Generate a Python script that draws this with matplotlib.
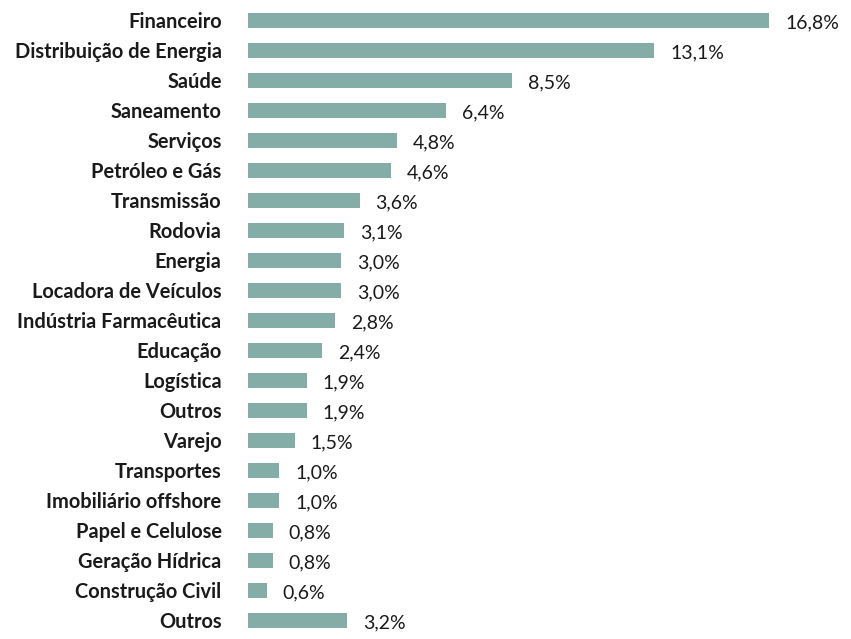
import matplotlib
matplotlib.use("Agg")
import matplotlib.pyplot as plt

categories = ["Financeiro", "Distribuição de Energia", "Saúde", "Saneamento", "Serviços",
              "Petróleo e Gás", "Transmissão", "Rodovia", "Energia", "Locadora de Veículos",
              "Indústria Farmacêutica", "Educação", "Logística", "Outros", "Varejo",
              "Transportes", "Imobiliário offshore", "Papel e Celulose", "Geração Hídrica",
              "Construção Civil", "Outros"]
values = [16.8, 13.1, 8.5, 6.4, 4.8, 4.6, 3.6, 3.1, 3.0, 3.0, 2.8, 2.4, 1.9, 1.9, 1.5,
          1.0, 1.0, 0.8, 0.8, 0.6, 3.2]

W, H = 851, 639
fig = plt.figure(figsize=(W / 100, H / 100), dpi=100)
ax = fig.add_axes([248 / W, 1 - 635 / H, 521 / W, 630 / H])

pos = list(range(len(categories)))
ax.barh(pos, values, height=0.5, color="#84ada7")
ax.set_xlim(0, 16.8)
ax.set_ylim(len(categories) - 0.5, -0.5)
ax.set_yticks(pos)
ax.set_yticklabels(categories, fontfamily="Lato", fontweight="bold", fontsize=14.4, color="#1a1a1a")
ax.tick_params(axis="y", length=0, pad=19)
ax.set_xticks([])
for s in ax.spines.values():
    s.set_visible(False)

for p, v in zip(pos, values):
    ax.annotate(f"{v:.1f}".replace(".", ",") + "%", xy=(v, p), xytext=(11.5, -2),
                textcoords="offset points", ha="left", va="center",
                fontfamily="Lato", fontsize=14, color="#1a1a1a", annotation_clip=False)

fig.savefig("out.png", dpi=100)
